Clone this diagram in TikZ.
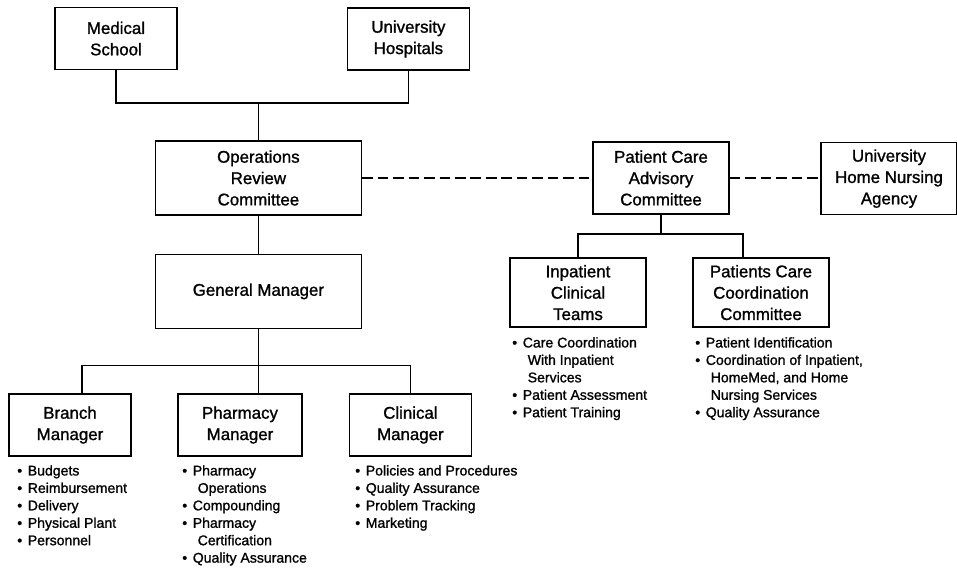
\documentclass[tikz,border=0pt]{standalone}
\usepackage{fontspec}
\setmainfont{Liberation Sans}[BoldFont={Liberation Sans}, BoldFeatures={FakeBold=1.2}]
\usepackage{tikz}
\usetikzlibrary{positioning, calc}
\newcommand{\bul}{\textbullet\hspace{0.4em}}
\newcommand{\cont}{\hphantom{\textbullet}\hspace{0.75em}}

\begin{document}
\begin{tikzpicture}[
    unit/.style={rectangle, draw, line width=1.2pt, align=center, inner sep=0pt, font=\fontsize{12}{15.2}\selectfont\bfseries},
    small/.style={unit, minimum width=3.05cm, minimum height=1.55cm},
    wide/.style={unit, minimum width=5.15cm, minimum height=1.85cm},
    mid/.style={unit, minimum width=3.4cm, minimum height=1.8cm},
    team/.style={unit, minimum width=3.4cm, minimum height=1.72cm},
    duties/.style={anchor=north west, inner sep=0pt, align=left, font=\fontsize{10}{12.4}\selectfont\bfseries},
    link/.style={line width=1pt},
    dashlink/.style={line width=1pt, dash pattern=on 7.5pt off 3.5pt}
]
    \useasboundingbox (0,0) rectangle (23.925,14.225);

    % Governing bodies
    \node[small] (med) at (2.9, 13.26) {Medical\\School};
    \node[small] (uhosp) at (10.21, 13.25) {University\\Hospitals};
    \node[wide] (orc) at (6.46, 9.775) {Operations\\Review\\Committee};
    \node[wide] (gm) at (6.46, 6.94) {General Manager};

    \coordinate (topbar) at (6.46, 11.65);
    \draw[link] (med.south) |- (topbar) -| (uhosp.south);
    \draw[link] (topbar) -- (orc.north);
    \draw[link] (orc.south) -- (gm.north);

    % Advisory side
    \node[mid] (pcac) at (16.525, 9.775) {Patient Care\\Advisory\\Committee};
    \node[mid] (uhna) at (22.225, 9.76) {University\\Home Nursing\\Agency};
    \node[team] (ict) at (14.45, 6.91) {Inpatient\\Clinical\\Teams};
    \node[team] (pccc) at (19.025, 6.91) {Patients Care\\Coordination\\Committee};

    \draw[dashlink] (orc.east) -- (pcac.west);
    \draw[dashlink] (pcac.east) -- (pcac.east -| uhna.west);

    \coordinate (pcbar) at ($(pcac.south)+(0,-0.475)$);
    \draw[link] (pcac.south) -- (pcbar);
    \draw[link] (ict.north) |- (pcbar) -| ([xshift=-0.45cm]pccc.north);

    \node[duties] (ictlist) at (12.8, 5.8) {\bul Care Coordination\\\cont With Inpatient\\\cont Services\\\bul Patient Assessment\\\bul Patient Training};
    \node[duties] (pcclist) at (17.375, 5.8) {\bul Patient Identification\\\bul Coordination of Inpatient,\\\cont HomeMed, and Home\\\cont Nursing Services\\\bul Quality Assurance};

    % Managers
    \node[small] (branch) at (1.75, 3.6) {Branch\\Manager};
    \node[small, minimum width=3.1cm] (pharm) at (6.0, 3.6) {Pharmacy\\Manager};
    \node[small] (clin) at (10.26, 3.6) {Clinical\\Manager};

    \coordinate (gmbar) at ($(gm.south)+(0,-0.9)$);
    \draw[link] (gm.south) -- (gm.south |- pharm.north);
    \draw[link] ([xshift=0.3cm]branch.north) |- (gmbar) -| (clin.north);

    \node[duties] (brlist) at (0.425, 2.6) {\bul Budgets\\\bul Reimbursement\\\bul Delivery\\\bul Physical Plant\\\bul Personnel};
    \node[duties] (phlist) at (4.55, 2.6) {\bul Pharmacy\\\cont Operations\\\bul Compounding\\\bul Pharmacy\\\cont Certification\\\bul Quality Assurance};
    \node[duties] (cllist) at (8.875, 2.6) {\bul Policies and Procedures\\\bul Quality Assurance\\\bul Problem Tracking\\\bul Marketing};

\end{tikzpicture}
\end{document}
